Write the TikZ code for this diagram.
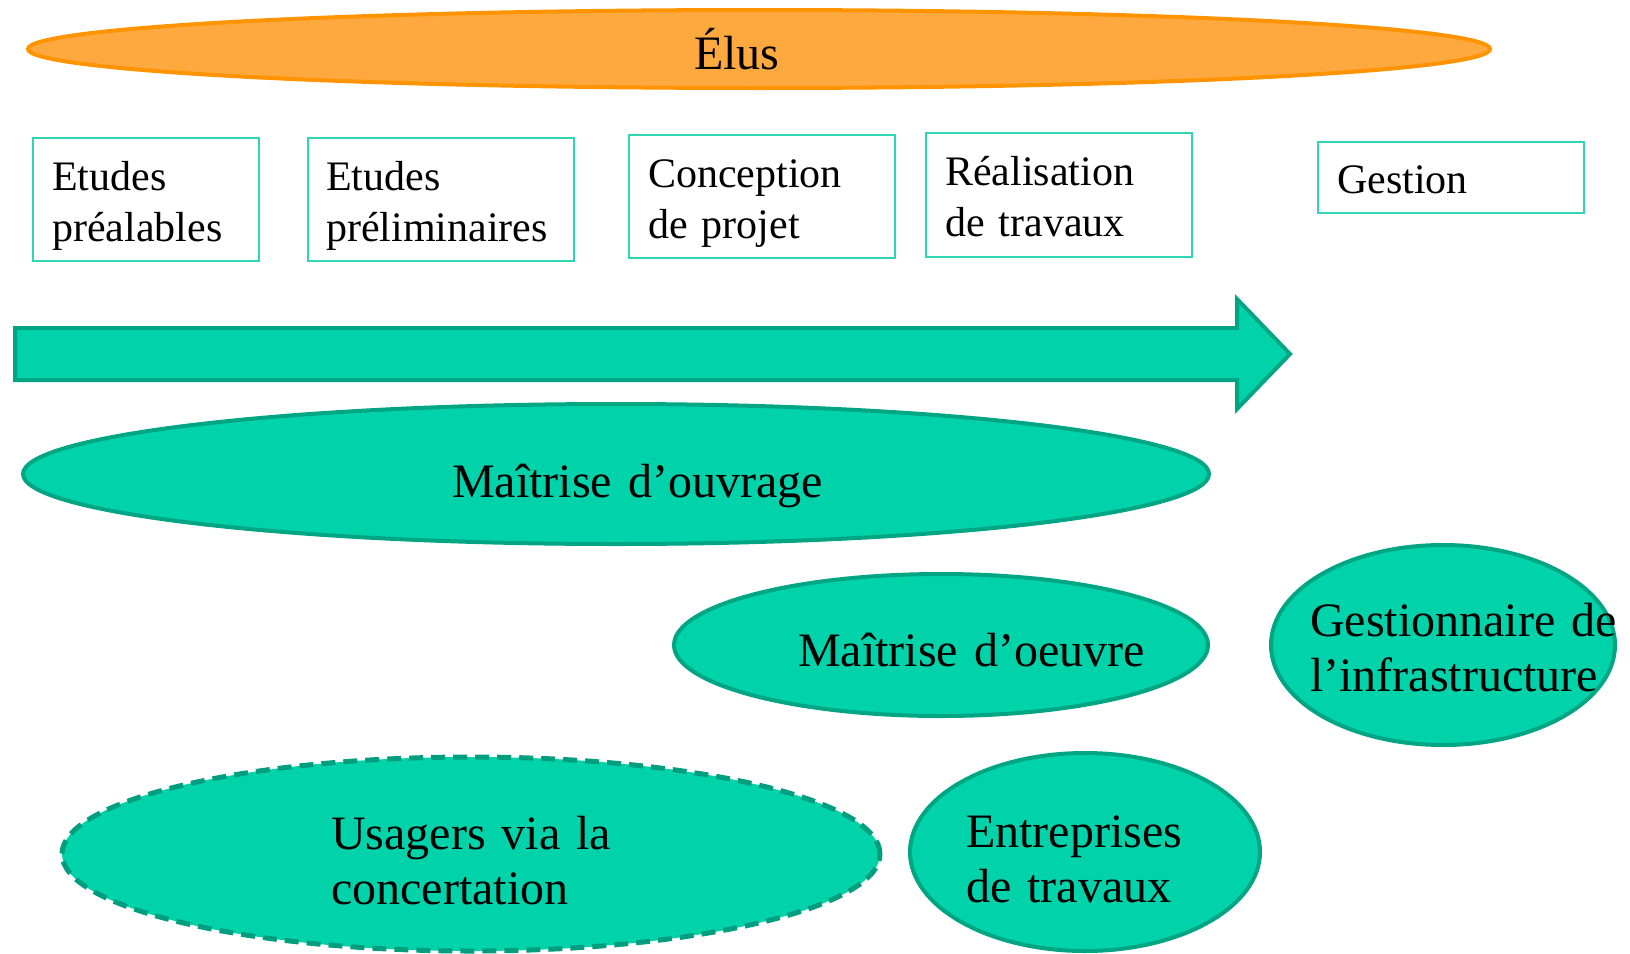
\documentclass[tikz,border=0pt]{standalone}
\usepackage{fontspec}
\setmainfont{Liberation Serif}[WordSpace=0.8]
\usetikzlibrary{shapes.geometric}
\definecolor{tealfill}{HTML}{00D2AA}
\definecolor{tealline}{HTML}{00A583}
\definecolor{dashline}{HTML}{009E7E}
\definecolor{boxline}{HTML}{2ED6B6}
\definecolor{orfill}{HTML}{FDA940}
\definecolor{orline}{HTML}{FF9400}
\tikzset{
  phasebox/.style={draw=boxline, line width=2bp, fill=white, inner sep=0pt, anchor=north west},
  boxtext/.style={anchor=base west, inner sep=0pt, text width=300bp, align=left, font=\fontsize{42bp}{51bp}\selectfont},
  actor/.style={ellipse, draw=tealline, fill=tealfill, line width=4bp, inner sep=0pt},
  actortext/.style={anchor=base west, inner sep=0pt, text width=500bp, align=left, font=\fontsize{48bp}{55bp}\selectfont},
  elusshape/.style={ellipse, draw=orline, fill=orfill, line width=4bp, inner sep=0pt},
}
\begin{document}
\begin{tikzpicture}[x=1bp,y=-1bp]
\useasboundingbox (0,0) rectangle (1630,953);
% Elus
\node[elusshape, minimum width=1462bp, minimum height=78bp] (elus) at (759,49) {};
\node[actortext] (elust) at (694,69) {Élus};
% phase boxes
\node[phasebox, minimum width=226bp, minimum height=123bp] (b1) at (32,137) {};
\node[boxtext] (b1t) at (52,190) {Etudes\\préalables};
\node[phasebox, minimum width=266bp, minimum height=123bp] (b2) at (307,137) {};
\node[boxtext] (b2t) at (326,190) {Etudes\\préliminaires};
\node[phasebox, minimum width=266bp, minimum height=123bp] (b3) at (628,134) {};
\node[boxtext] (b3t) at (648,187) {Conception\\de projet};
\node[phasebox, minimum width=266bp, minimum height=124bp] (b4) at (925,132) {};
\node[boxtext] (b4t) at (945,185) {Réalisation\\de travaux};
\node[phasebox, minimum width=266bp, minimum height=71bp] (b5) at (1317,141) {};
\node[boxtext] (b5t) at (1337,193) {Gestion};
% big arrow
\draw[draw=tealline, fill=tealfill, line width=4bp, line join=miter]
  (15,328) -- (1237,328) -- (1237,299) -- (1290,354) -- (1237,409) -- (1237,380) -- (15,380) -- cycle;
% actors
\node[actor, minimum width=1186bp, minimum height=140bp] (mo) at (616,474) {};
\node[actortext] (mot) at (452,497) {Maîtrise d’ouvrage};
\node[actor, minimum width=534bp, minimum height=142bp] (moe) at (941,645) {};
\node[actortext] (moet) at (798,666) {Maîtrise d’oeuvre};
\node[actor, minimum width=344bp, minimum height=200bp] (gi) at (1443,645) {};
\node[actortext] (git) at (1310,636) {Gestionnaire de\\l’infrastructure};
\node[actor, draw=dashline, line width=5bp, dash pattern=on 14bp off 8bp, minimum width=818bp, minimum height=194bp] (us) at (471,854) {};
\node[actortext] (ust) at (331,849) {Usagers via la\\concertation};
\node[actor, minimum width=350bp, minimum height=198bp] (et) at (1085,852) {};
\node[actortext] (ett) at (966,847) {Entreprises\\de travaux};
\end{tikzpicture}
\end{document}
